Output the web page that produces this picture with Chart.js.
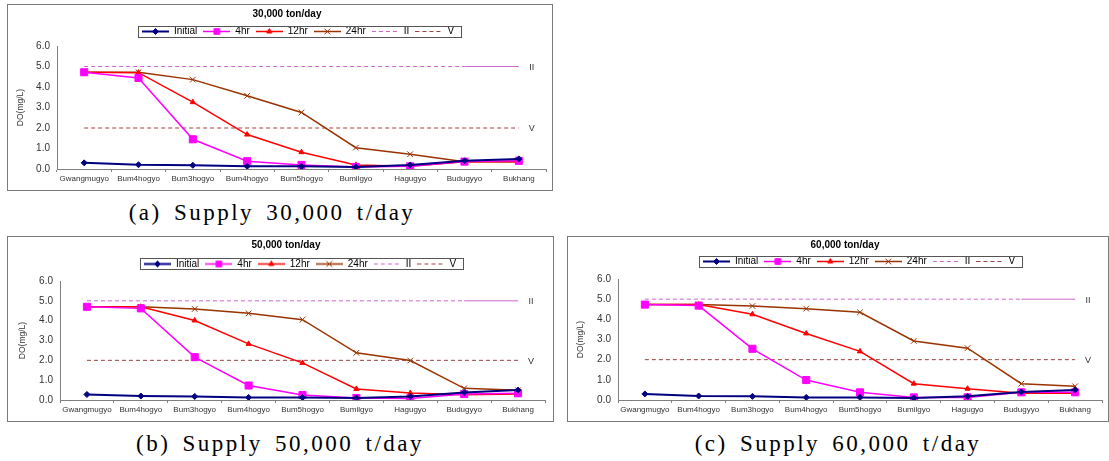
<!DOCTYPE html>
<html>
<head>
<meta charset="utf-8">
<script src="https://cdn.jsdelivr.net/npm/chart.js@4.4.1/dist/chart.umd.min.js"></script>
<style>
  body { margin: 0; background: #fff; width: 1109px; height: 461px; position: relative; overflow: hidden; }
  .panel { position: absolute; border: 1px solid #7a7a7a; box-sizing: border-box; background: #fff; }
  .panel canvas { position: absolute; left: 0; top: 0; }
  .caption {
    position: absolute; height: 26px; line-height: 26px; white-space: nowrap;
    font-family: "Liberation Serif", "DejaVu Serif", serif; font-size: 23px; color: #000;
    letter-spacing: 2.5px; word-spacing: 4px; transform: translateX(-50%);
  }
</style>
</head>
<body>
<div class="panel" style="left:7px;top:4px;width:546px;height:187px"><canvas id="chartA"></canvas></div>
<div class="panel" style="left:7px;top:236px;width:547px;height:186px"><canvas id="chartB"></canvas></div>
<div class="panel" style="left:567px;top:236px;width:542px;height:186px"><canvas id="chartC"></canvas></div>
<div class="caption" style="left:272px;top:200px">(a) Supply 30,000 t/day</div>
<div class="caption" style="left:280px;top:431px">(b) Supply 50,000 t/day</div>
<div class="caption" style="left:838px;top:431px">(c) Supply 60,000 t/day</div>

<script>
// 측점 (x축 범주)
const stations = ['Gwangmugyo', 'Bum4hogyo', 'Bum3hogyo', 'Bum4hogyo', 'Bum5hogyo', 'Bumilgyo', 'Hagugyo', 'Budugyyo', 'Bukhang'];
const seriesNames = ['Initial', '4hr', '12hr', '24hr'];
const yTicks = [0, 1, 2, 3, 4, 5, 6];

// 수질기준선 (II, V 등급)
const gradeII = [5, 5, 5, 5, 5, 5, 5, 5, 5];
const gradeV = [2, 2, 2, 2, 2, 2, 2, 2, 2];

// 30,000 ton/day
const initialA = [0.30, 0.21, 0.18, 0.13, 0.13, 0.10, 0.20, 0.40, 0.49];
const hr4A     = [4.72, 4.44, 1.45, 0.38, 0.20, 0.10, 0.13, 0.36, 0.40];
const hr12A    = [4.72, 4.70, 3.26, 1.68, 0.82, 0.20, 0.13, 0.35, 0.35];
const hr24A    = [4.72, 4.72, 4.36, 3.57, 2.76, 1.04, 0.72, 0.35, 0.35];

// 50,000 ton/day
const initialB = [0.28, 0.20, 0.18, 0.13, 0.12, 0.10, 0.18, 0.38, 0.50];
const hr4B     = [4.70, 4.62, 2.16, 0.73, 0.25, 0.10, 0.08, 0.30, 0.34];
const hr12B    = [4.70, 4.70, 4.01, 2.83, 1.87, 0.56, 0.35, 0.27, 0.30];
const hr24B    = [4.70, 4.70, 4.59, 4.37, 4.05, 2.38, 1.99, 0.59, 0.49];

// 60,000 ton/day
const initialC = [0.30, 0.20, 0.18, 0.13, 0.13, 0.10, 0.18, 0.40, 0.50];
const hr4C     = [4.73, 4.68, 2.54, 0.99, 0.38, 0.13, 0.13, 0.38, 0.38];
const hr12C    = [4.73, 4.73, 4.25, 3.30, 2.41, 0.81, 0.56, 0.33, 0.33];
const hr24C    = [4.73, 4.73, 4.66, 4.53, 4.35, 2.93, 2.57, 0.81, 0.68];

const SANS = '"Liberation Sans", Arial, sans-serif';
const SWATCH_W = 27;

// 패널별 배치 (캔버스 기준 픽셀)
const panels = [
  { id: 'chartA', title: '30,000 ton/day', data: [initialA, hr4A, hr12A, hr24A], w: 544, h: 185,
    axisX: 49, plotRight: 541, plotTop: 41, plotBottom: 164, titleX: 279, titleY: 9, legendX: 134, legendY: 26.5, yTitleX: 13 },
  { id: 'chartB', title: '50,000 ton/day', data: [initialB, hr4B, hr12B, hr24B], w: 545, h: 184,
    axisX: 52, plotRight: 537, plotTop: 44, plotBottom: 163, titleX: 278, titleY: 8, legendX: 136, legendY: 27, yTitleX: 15 },
  { id: 'chartC', title: '60,000 ton/day', data: [initialC, hr4C, hr12C, hr24C], w: 540, h: 184,
    axisX: 50, plotRight: 537, plotTop: 42, plotBottom: 163, titleX: 277, titleY: 8, legendX: 135, legendY: 24.5, yTitleX: 13 }
];

const seriesStyles = [
  { color: '#000080', width: 2, point: 'rectRot', radius: 3, order: 0 },
  { color: '#FF00FF', width: 1.5, point: 'rect', radius: 5, order: 1 },
  { color: '#FF0000', width: 1.5, point: 'triangle', radius: 3, order: 2 },
  { color: '#993300', width: 1.5, point: 'crossRot', radius: 4, order: 3 }
];

// 범례용 선+마커 견본
function makeSwatch(ds) {
  const c = document.createElement('canvas');
  c.width = SWATCH_W;
  c.height = 9;
  const g = c.getContext('2d');
  g.strokeStyle = ds.borderColor;
  g.lineWidth = ds.borderWidth;
  g.setLineDash(ds.borderDash || []);
  g.beginPath();
  g.moveTo(0, 4.5);
  g.lineTo(SWATCH_W, 4.5);
  g.stroke();
  g.setLineDash([]);
  if (ds.pointRadius > 0 && Chart.helpers && Chart.helpers.drawPoint) {
    g.fillStyle = ds.pointBackgroundColor;
    g.strokeStyle = ds.pointBorderColor;
    g.lineWidth = 1;
    Chart.helpers.drawPoint(g, { pointStyle: ds.pointStyle, radius: Math.min(ds.pointRadius, 4), rotation: 0, borderWidth: 1 }, SWATCH_W / 2, 4.5);
  }
  return c;
}

const decor = {
  id: 'decor',
  afterLayout(chart, args, opts) {
    const lg = chart.legend;
    const p = lg.options.labels.padding;
    const cur = (lg.left + p + lg.right - lg.lineWidths[0]) / 2;
    const dx = opts.legendX - cur;
    lg.left += dx; lg.right += dx;
    const dy = opts.legendY - (lg.top + p + 5);
    lg.top += dy; lg.bottom += dy;
    const tb = chart.titleBlock;
    const tdx = opts.titleX - (tb.left + tb.right) / 2;
    tb.left += tdx; tb.right += tdx;
  },
  afterDatasetsDraw(chart) {
    const { ctx, scales: { x, y } } = chart;
    const lx = x.getPixelForValue(stations.length - 1) + 13;
    ctx.save();
    ctx.fillStyle = '#333';
    ctx.font = '9px ' + SANS;
    ctx.textAlign = 'center';
    ctx.textBaseline = 'middle';
    ctx.fillText('II', lx, y.getPixelForValue(gradeII[gradeII.length - 1]) + 1);
    ctx.fillText('V', lx, y.getPixelForValue(gradeV[gradeV.length - 1]) + 1);
    ctx.restore();
  },
  afterDraw(chart) {
    const lg = chart.legend;
    const p = lg.options.labels.padding;
    const x0 = (lg.left + p + lg.right - lg.lineWidths[0]) / 2;
    const w = lg.lineWidths[0] - p;
    const cy = lg.top + p + 5;
    const ctx = chart.ctx;
    ctx.save();
    ctx.strokeStyle = '#555';
    ctx.lineWidth = 1;
    ctx.strokeRect(Math.round(x0 - 4) + 0.5, Math.round(cy - 6) + 0.5, Math.round(w + 11), 11);
    ctx.restore();
  }
};

function buildChart(p) {
  const canvas = document.getElementById(p.id);
  canvas.width = p.w;
  canvas.height = p.h;
  canvas.style.width = p.w + 'px';
  canvas.style.height = p.h + 'px';

  const datasets = p.data.map((values, i) => {
    const s = seriesStyles[i];
    return {
      label: seriesNames[i],
      data: values,
      borderColor: s.color,
      backgroundColor: s.color,
      borderWidth: s.width,
      pointStyle: s.point,
      pointRadius: s.radius,
      pointBackgroundColor: s.color,
      pointBorderColor: s.color,
      pointBorderWidth: 1,
      tension: 0,
      order: s.order
    };
  });
  datasets.push({
    label: 'II', data: gradeII, borderColor: '#CC66CC', backgroundColor: '#CC66CC',
    borderWidth: 1, borderDash: [4, 3], pointRadius: 0, order: 5,
    segment: { borderDash: c => (c.p0DataIndex >= stations.length - 2 ? [] : [4, 3]) }
  });
  datasets.push({
    label: 'V', data: gradeV, borderColor: '#A04040', backgroundColor: '#A04040',
    borderWidth: 1, borderDash: [4, 3], pointRadius: 0, order: 5
  });

  const options = {
    responsive: false,
    animation: false,
    devicePixelRatio: 1,
    events: [],
    layout: { padding: { left: 0, top: 0, bottom: 0, right: p.w - p.plotRight } },
    plugins: {
      title: {
        display: true, text: p.title, color: '#000',
        font: { family: SANS, size: 10, weight: 'bold', lineHeight: 1.2 },
        padding: { top: p.titleY - 6, bottom: 0 }
      },
      legend: {
        display: true, position: 'top',
        labels: {
          usePointStyle: true, pointStyleWidth: SWATCH_W, padding: 6, color: '#000',
          font: { family: SANS, size: 10 },
          generateLabels: chart => chart.data.datasets.map((ds, i) => ({
            text: ds.label,
            pointStyle: makeSwatch(ds),
            fillStyle: ds.borderColor,
            strokeStyle: ds.borderColor,
            lineWidth: 0,
            fontColor: '#000',
            hidden: false,
            datasetIndex: i
          }))
        }
      },
      tooltip: { enabled: false },
      decor: { legendX: p.legendX, legendY: p.legendY, titleX: p.titleX }
    },
    scales: {
      x: {
        offset: true,
        grid: { offset: true, drawOnChartArea: false, tickLength: 3, color: '#808080' },
        border: { color: '#808080' },
        ticks: { color: '#333', font: { family: SANS, size: 8 }, padding: 2, maxRotation: 0, autoSkip: false },
        afterFit: s => { s.height = p.h - p.plotBottom; }
      },
      y: {
        min: yTicks[0], max: yTicks[yTicks.length - 1],
        ticks: { stepSize: 1, padding: 7, color: '#333', font: { family: SANS, size: 10 }, callback: v => v.toFixed(1) },
        grid: { drawOnChartArea: false, drawTicks: false },
        border: { color: '#808080' },
        title: {
          display: true, text: 'DO(mg/L)', color: '#333',
          font: { family: SANS, size: 8.5, lineHeight: 1.2 },
          padding: { top: p.yTitleX - 5.1, bottom: 0 }
        },
        afterFit: s => { s.width = p.axisX; }
      }
    }
  };

  const chart = new Chart(canvas, { type: 'line', data: { labels: stations, datasets }, options, plugins: [decor] });
  // 플롯 영역 상단을 원본 위치에 맞춤
  const diff = p.plotTop - chart.chartArea.top;
  if (Math.abs(diff) > 0.2) {
    options.plugins.title.padding.bottom += diff;
    chart.update();
  }
  return chart;
}

panels.forEach(buildChart);
</script>
</body>
</html>
